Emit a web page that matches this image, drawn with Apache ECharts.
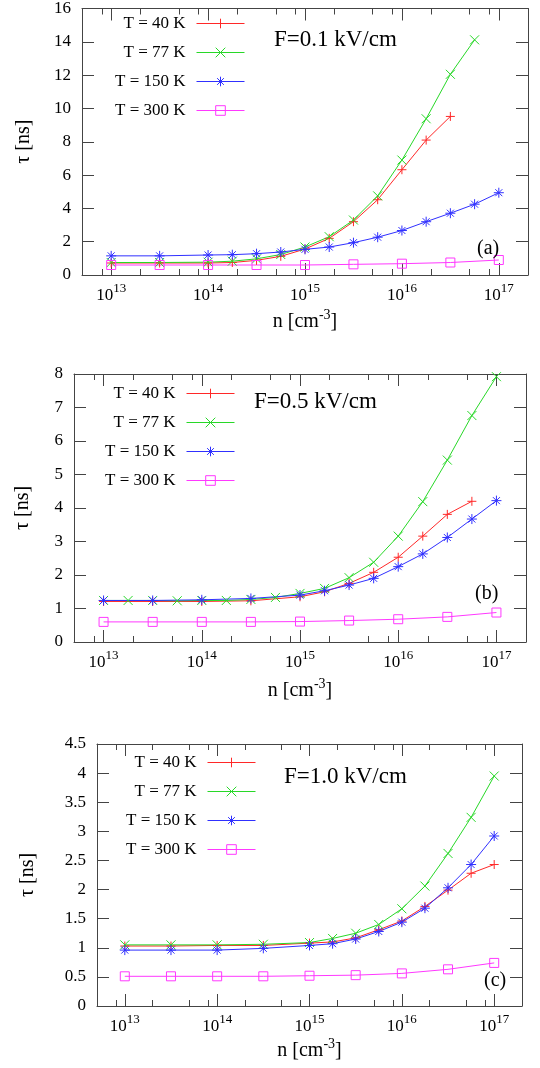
<!DOCTYPE html>
<html>
<head>
<meta charset="utf-8">
<script src="https://cdn.jsdelivr.net/npm/echarts@6/dist/echarts.min.js"></script>
<style>
    html, body { margin: 0; padding: 0; background: #fff; }
    #main { width: 540px; height: 1068px; }
</style>
</head>
<body>
<div id="main"></div>
<script>
// x is log10(n / cm^-3), y is tau in ns
var seriesNames = ['T = 40 K', 'T = 77 K', 'T = 150 K', 'T = 300 K'];
var seriesColors = ['#ff2828', '#28d828', '#3030ff', '#ff38ff'];
var decades = [13, 14, 15, 16, 17];
var minorMult = [2, 5, 8];

// panel (a) F=0.1 kV/cm
var xRed_a = [13, 13.5, 14, 14.25, 14.5, 14.75, 15, 15.25, 15.5, 15.75, 16, 16.25, 16.5];
var tauRed_a = [0.72, 0.72, 0.72, 0.75, 0.88, 1.12, 1.56, 2.2, 3.2, 4.52, 6.32, 8.1, 9.52];
var xGreen_a = [13, 13.5, 14, 14.25, 14.5, 14.75, 15, 15.25, 15.5, 15.75, 16, 16.25, 16.5, 16.75];
var tauGreen_a = [0.75, 0.75, 0.77, 0.83, 0.97, 1.23, 1.68, 2.3, 3.3, 4.75, 6.9, 9.38, 12.05, 14.12];
var xBlue_a = [13, 13.5, 14, 14.25, 14.5, 14.75, 15, 15.25, 15.5, 15.75, 16, 16.25, 16.5, 16.75, 17];
var tauBlue_a = [1.15, 1.15, 1.2, 1.22, 1.28, 1.38, 1.54, 1.68, 1.94, 2.27, 2.67, 3.2, 3.71, 4.25, 4.94];
var xMag_a = [13, 13.5, 14, 14.5, 15, 15.5, 16, 16.5, 17];
var tauMag_a = [0.6, 0.6, 0.6, 0.6, 0.6, 0.64, 0.68, 0.75, 0.9];

// panel (b) F=0.5 kV/cm
var xRed_b = [13, 13.5, 14, 14.5, 15, 15.25, 15.5, 15.75, 16, 16.25, 16.5, 16.75];
var tauRed_b = [1.21, 1.21, 1.21, 1.23, 1.35, 1.5, 1.75, 2.08, 2.53, 3.16, 3.81, 4.2];
var xGreen_b = [13, 13.25, 13.5, 13.75, 14, 14.25, 14.5, 14.75, 15, 15.25, 15.5, 15.75, 16, 16.25, 16.5, 16.75, 17];
var tauGreen_b = [1.24, 1.24, 1.24, 1.23, 1.24, 1.24, 1.27, 1.33, 1.45, 1.6, 1.92, 2.38, 3.16, 4.19, 5.43, 6.76, 7.92];
var xBlue_b = [13, 13.5, 14, 14.5, 15, 15.25, 15.5, 15.75, 16, 16.25, 16.5, 16.75, 17];
var tauBlue_b = [1.24, 1.24, 1.26, 1.3, 1.4, 1.53, 1.7, 1.9, 2.25, 2.63, 3.12, 3.67, 4.22];
var xMag_b = [13, 13.5, 14, 14.5, 15, 15.5, 16, 16.5, 17];
var tauMag_b = [0.6, 0.6, 0.6, 0.6, 0.61, 0.64, 0.68, 0.75, 0.88];

// panel (c) F=1.0 kV/cm
var xLine_c = [13, 13.5, 14, 14.5, 15, 15.25, 15.5, 15.75, 16, 16.25, 16.5, 16.75, 17];
var tauRed_c = [1.03, 1.03, 1.04, 1.04, 1.08, 1.1, 1.17, 1.31, 1.46, 1.71, 1.99, 2.28, 2.43];
var tauGreen_c = [1.05, 1.05, 1.05, 1.06, 1.09, 1.16, 1.25, 1.4, 1.67, 2.06, 2.62, 3.24, 3.95];
var tauBlue_c = [0.96, 0.96, 0.96, 0.99, 1.04, 1.07, 1.15, 1.28, 1.44, 1.68, 2.03, 2.43, 2.92];
var xMag_c = [13, 13.5, 14, 14.5, 15, 15.5, 16, 16.5, 17];
var tauMag_c = [0.51, 0.51, 0.51, 0.51, 0.52, 0.53, 0.56, 0.63, 0.74];

var font = 'Liberation Serif';
var axisColor = '#444';
var xMin = Math.log10(5e12), xMax = Math.log10(2e17);

var minorTicks = [];
for (var e = 12; e <= 16; e++) {
    minorMult.forEach(function (m) {
        var v = e + Math.log10(m);
        if (v > xMin + 0.01 && v < xMax - 0.01) minorTicks.push(v);
    });
}

var symbols = [
    'path://M5,0L5,10M0,5L10,5',
    'path://M0,0L10,10M10,0L0,10',
    'path://M5,0L5,10M0,5L10,5M1.5,1.5L8.5,8.5M8.5,1.5L1.5,8.5',
    'path://M0,0L10,0L10,10L0,10Z'
];
var symbolSizes = [9, 9, 10, 9];

var panels = [
    {grid: {left: 82, top: 5, width: 446, height: 270}, yMax: 16, yStep: 2, yNameGap: 48, xNameGap: 33,
     legend: {right: 295, top: 15}, field: 'F=0.1 kV/cm', fieldPos: [274, 28], tag: '(a)', tagPos: [477, 239],
     data: [[xRed_a, tauRed_a], [xGreen_a, tauGreen_a], [xBlue_a, tauBlue_a], [xMag_a, tauMag_a]]},
    {grid: {left: 74, top: 374, width: 452, height: 268}, yMax: 8, yStep: 1, yNameGap: 41, xNameGap: 35,
     legend: {right: 305, top: 385}, field: 'F=0.5 kV/cm', fieldPos: [254, 390], tag: '(b)', tagPos: [475, 584],
     data: [[xRed_b, tauRed_b], [xGreen_b, tauGreen_b], [xBlue_b, tauBlue_b], [xMag_b, tauMag_b]]},
    {grid: {left: 97, top: 744, width: 425, height: 262}, yMax: 4.5, yStep: 0.5, yNameGap: 59, xNameGap: 31,
     legend: {right: 284, top: 754}, field: 'F=1.0 kV/cm', fieldPos: [284, 765], tag: '(c)', tagPos: [484, 971],
     data: [[xLine_c, tauRed_c], [xLine_c, tauGreen_c], [xLine_c, tauBlue_c], [xMag_c, tauMag_c]]}
];

var supRich = {
    b: {fontFamily: font, fontSize: 17, color: '#000', lineHeight: 22, verticalAlign: 'bottom'},
    s: {fontFamily: font, fontSize: 13, color: '#000', lineHeight: 13, verticalAlign: 'top'}
};
var nameRich = {
    b: {fontFamily: font, fontSize: 20, color: '#000', lineHeight: 24, verticalAlign: 'bottom'},
    s: {fontFamily: font, fontSize: 14, color: '#000', lineHeight: 14, verticalAlign: 'top'}
};

function xAxis(gi, pos, ticks, len, withLabel, p) {
    var ax = {
        gridIndex: gi, type: 'value', min: xMin, max: xMax, position: pos,
        axisLine: {show: len > 10, onZero: false, lineStyle: {color: axisColor, width: 1}},
        axisTick: {inside: true, length: len, customValues: ticks, lineStyle: {color: axisColor}},
        axisLabel: {show: false},
        splitLine: {show: false}
    };
    if (withLabel) {
        ax.axisLabel = {
            show: true, customValues: decades, margin: 7, rich: supRich,
            formatter: function (v) { return '{b|10}{s|' + Math.round(v) + '}'; }
        };
        ax.name = '{b|n [cm}{s|-3}{b|]}';
        ax.nameLocation = 'middle';
        ax.nameGap = p.xNameGap;
        ax.nameTextStyle = {rich: nameRich};
    }
    return ax;
}

var option = {
    animation: false,
    backgroundColor: '#fff',
    grid: [], xAxis: [], yAxis: [], legend: [], title: [], series: []
};

panels.forEach(function (p, gi) {
    option.grid.push(p.grid);
    option.xAxis.push(xAxis(gi, 'bottom', decades, 12, true, p));
    option.xAxis.push(xAxis(gi, 'bottom', minorTicks, 6, false, p));
    option.xAxis.push(xAxis(gi, 'top', decades, 12, false, p));
    option.xAxis.push(xAxis(gi, 'top', minorTicks, 6, false, p));

    [0, 1].forEach(function (k) {
        option.yAxis.push({
            gridIndex: gi, type: 'value', min: 0, max: p.yMax, interval: p.yStep,
            position: k === 0 ? 'left' : 'right',
            axisLine: {show: true, onZero: false, lineStyle: {color: axisColor, width: 1}},
            axisTick: {inside: true, length: 12, lineStyle: {color: axisColor}},
            axisLabel: {show: k === 0, margin: 11, color: '#000', fontFamily: font, fontSize: 17},
            splitLine: {show: false},
            name: k === 0 ? 'τ [ns]' : '',
            nameLocation: 'middle', nameGap: p.yNameGap,
            nameTextStyle: {fontFamily: font, fontSize: 20, color: '#000'}
        });
    });

    option.legend.push({
        orient: 'vertical', align: 'right', right: p.legend.right, top: p.legend.top, padding: 0,
        itemWidth: 48, itemHeight: 12, itemGap: 12, selectedMode: false,
        data: seriesNames,
        textStyle: {fontFamily: font, fontSize: 17, color: '#000', lineHeight: 14, padding: [0, 6, 0, 0]},
        itemStyle: {borderWidth: 1},
        lineStyle: {width: 1}
    });

    option.title.push({
        text: p.field, left: p.fieldPos[0], top: p.fieldPos[1], padding: 0,
        textStyle: {fontFamily: font, fontSize: 23, fontWeight: 'normal', color: '#000'}
    });
    option.title.push({
        text: p.tag, left: p.tagPos[0], top: p.tagPos[1], padding: 0,
        textStyle: {fontFamily: font, fontSize: 20, fontWeight: 'normal', color: '#000'}
    });

    p.data.forEach(function (d, si) {
        var c = seriesColors[si];
        option.series.push({
            type: 'line', name: seriesNames[si],
            xAxisIndex: gi * 4, yAxisIndex: gi * 2,
            data: d[0].map(function (x, i) { return [x, d[1][i]]; }),
            symbol: symbols[si], symbolSize: symbolSizes[si],
            lineStyle: {color: c, width: 1},
            itemStyle: {color: 'transparent', borderColor: c, borderWidth: 1},
            emphasis: {disabled: true}
        });
    });
});

var chart = echarts.init(document.getElementById('main'));
chart.setOption(option);
</script>
</body>
</html>
